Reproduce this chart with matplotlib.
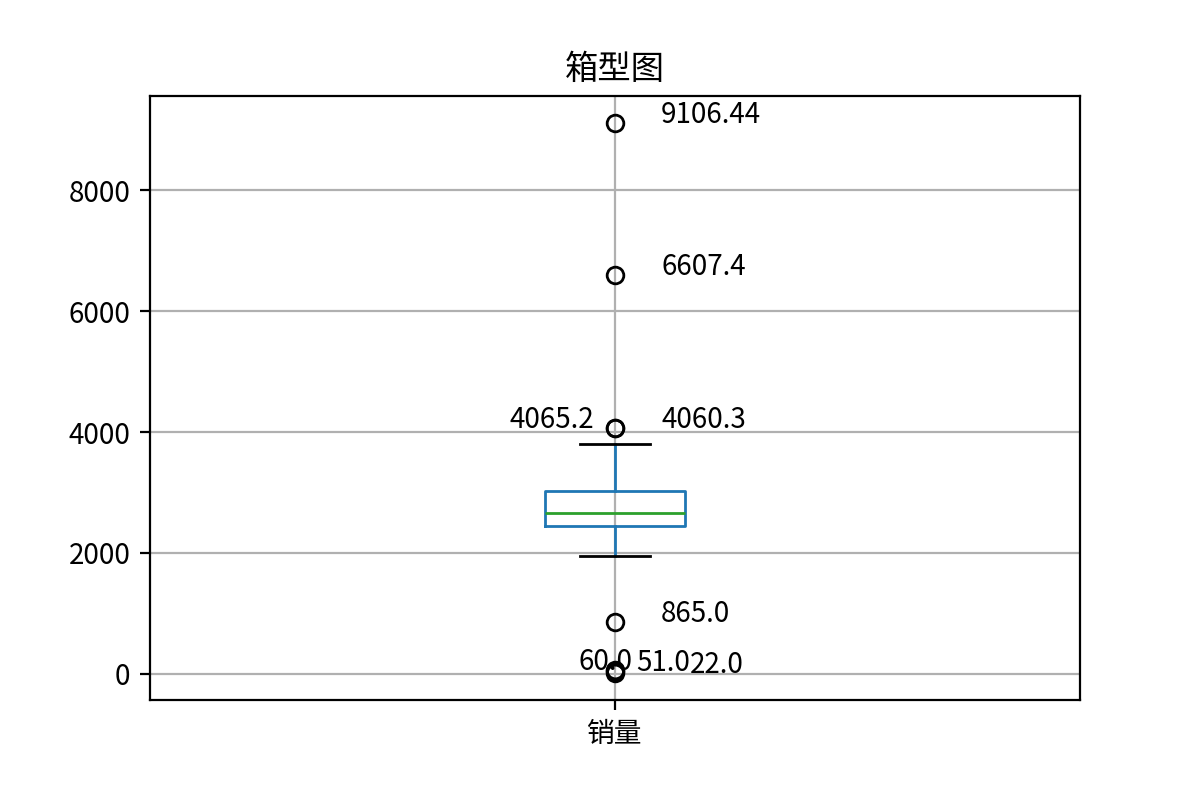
import matplotlib
matplotlib.use("Agg")
import matplotlib.pyplot as plt

plt.rcParams['font.family'] = ['Noto Sans CJK SC', 'DejaVu Sans']
plt.rcParams['axes.unicode_minus'] = False

category = ['销量']
q1 = 2445.0
median = 2665.0
q3 = 3030.0
whisker_low = 1952.0
whisker_high = 3810.0
fliers = [22.0, 51.0, 60.0, 865.0, 4060.3, 4065.2, 6607.4, 9106.44]

fig = plt.figure(figsize=(6, 4), dpi=200)
ax = fig.add_axes([0.125, 0.125, 0.775, 0.755])

stats = [dict(label=category[0], q1=q1, med=median, q3=q3,
              whislo=whisker_low, whishi=whisker_high, fliers=fliers)]
ax.bxp(stats, positions=[1], widths=0.15,
       boxprops=dict(color='#1f77b4'),
       whiskerprops=dict(color='#1f77b4'),
       capprops=dict(color='black'),
       medianprops=dict(color='#2ca02c'),
       flierprops=dict(marker='o', markerfacecolor='none', markeredgecolor='black'))
ax.set_xlim(0.5, 1.5)
ax.grid(True, color='#b0b0b0')
ax.set_axisbelow(True)
ax.set_title('箱型图')

y = sorted(fliers)
for i in range(len(y)):
    if i > 0:
        ax.annotate(y[i], xy=(1, y[i]), xytext=(1 + 0.05 - 0.8 / (y[i] - y[i - 1]), y[i]))
    else:
        ax.annotate(y[i], xy=(1, y[i]), xytext=(1 + 0.08, y[i]))

fig.savefig('out.png', dpi=200)
